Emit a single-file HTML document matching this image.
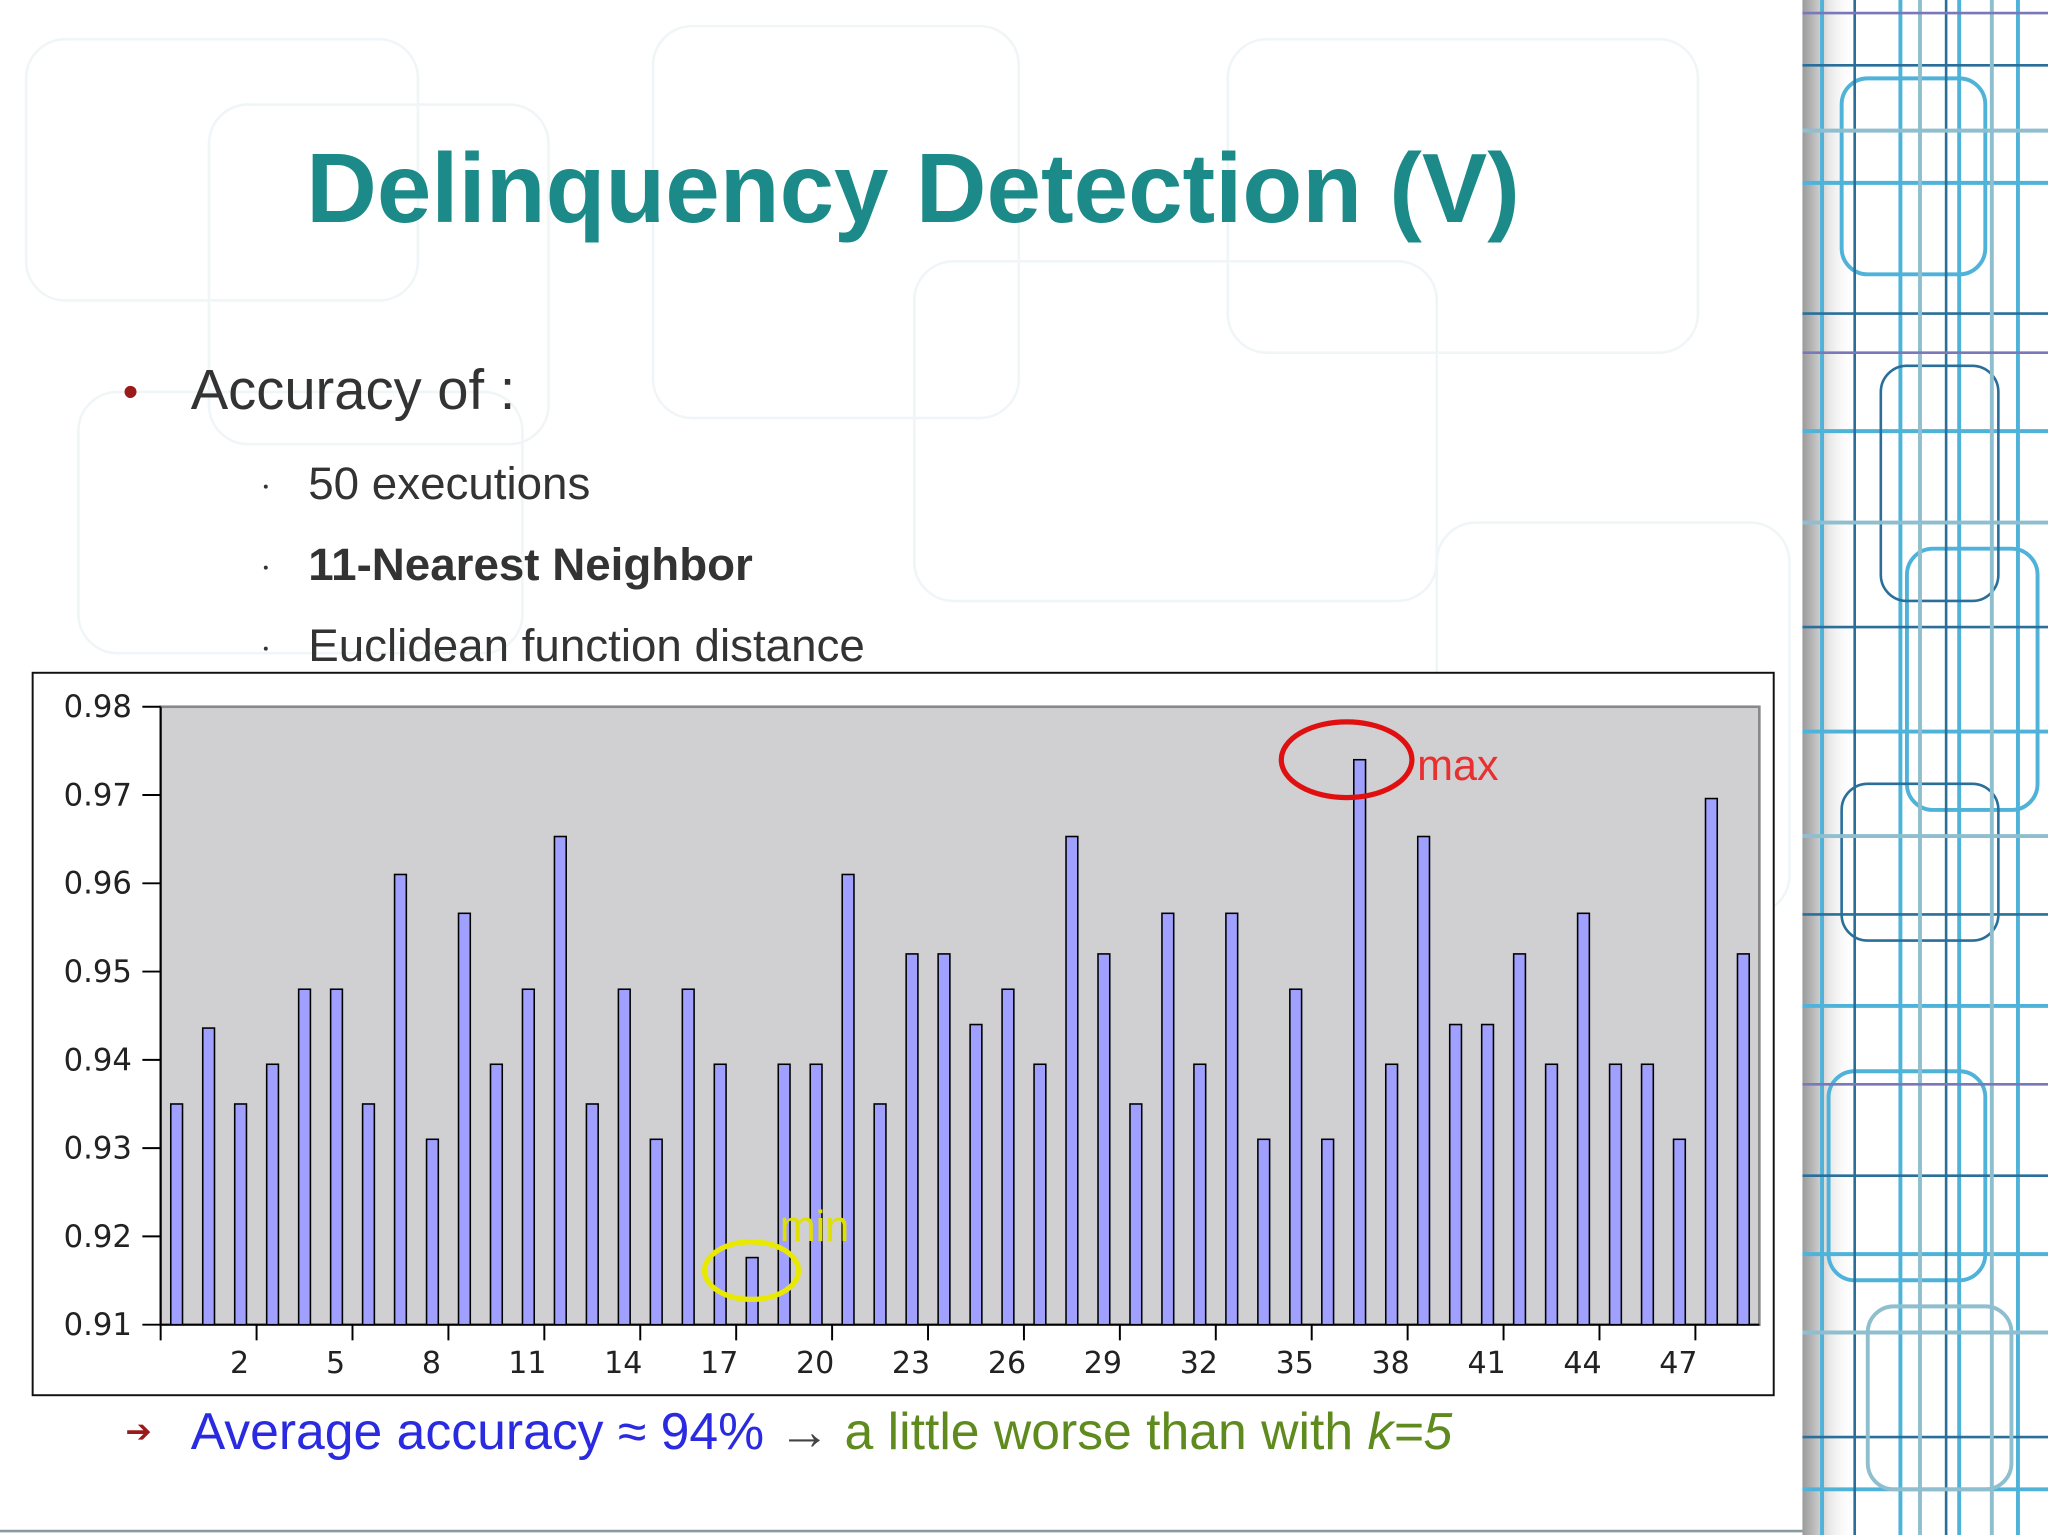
<!DOCTYPE html>
<html><head><meta charset="utf-8"><style>
html,body{margin:0;padding:0;width:2048px;height:1535px;overflow:hidden;background:#fff}
#wrap{position:absolute;left:0;top:0;width:1568px;height:1175px;transform:scale(1.30612,1.30638);transform-origin:0 0;font-family:"Liberation Sans",sans-serif}
.t{position:absolute;white-space:nowrap}
.dot{position:absolute;left:0;top:6px;width:3px;height:3px;background:#333;border-radius:50%}
</style></head><body>
<div id="wrap">
<svg width="1568" height="1175" style="position:absolute;left:0;top:0">
 <defs><linearGradient id="sh" x1="0" x2="1"><stop offset="0" stop-color="#9a9a9a"/><stop offset="0.5" stop-color="#e6e6e6"/><stop offset="1" stop-color="#fff" stop-opacity="0"/></linearGradient></defs>
 <g stroke="#f0f5f7" stroke-width="2" fill="none">
  <rect x="20" y="30" width="300" height="200" rx="30"/><rect x="160" y="80" width="260" height="260" rx="30"/>
  <rect x="500" y="20" width="280" height="300" rx="30"/><rect x="940" y="30" width="360" height="240" rx="30"/>
  <rect x="60" y="300" width="340" height="200" rx="30"/><rect x="700" y="200" width="400" height="260" rx="30"/>
  <rect x="1100" y="400" width="270" height="300" rx="30"/>
 </g>
 <rect x="1380" y="0" width="188" height="1175" fill="#fff"/>
 <rect x="1380" y="0" width="40" height="1175" fill="url(#sh)"/>
 <g fill="none" stroke-width="3">
  <g stroke="#4fb3d9"><path d="M1395 0V1175M1455 0V1175M1500 0V1175M1545 0V1175"/><path d="M1380 140H1568M1380 330H1568M1380 560H1568M1380 770H1568M1380 960H1568M1380 1140H1568"/>
  <rect x="1410" y="60" width="110" height="150" rx="20"/><rect x="1460" y="420" width="100" height="200" rx="20"/><rect x="1400" y="820" width="120" height="160" rx="20"/></g>
  <g stroke="#2a6f9a" stroke-width="2"><path d="M1420 0V1175M1490 0V1175M1380 50H1568M1380 240H1568M1380 480H1568M1380 700H1568M1380 900H1568M1380 1100H1568"/>
  <rect x="1440" y="280" width="90" height="180" rx="20"/><rect x="1410" y="600" width="120" height="120" rx="20"/></g>
  <g stroke="#8fbfcf"><path d="M1470 0V1175M1525 0V1175M1380 100H1568M1380 400H1568M1380 640H1568M1380 1020H1568"/><rect x="1430" y="1000" width="110" height="140" rx="20"/></g>
  <g stroke="#7a78b8" stroke-width="2"><path d="M1380 10H1568M1380 270H1568M1380 830H1568"/></g>
 </g>
 <line x1="0" y1="1172" x2="1380" y2="1172" stroke="#8a9aa0" stroke-width="2"/>
</svg>
<div class="t" style="left:0;width:1398px;text-align:center;top:101px;font-size:75px;font-weight:bold;color:#1b8a88">Delinquency Detection (V)</div>
<div class="t" style="left:94px;top:281px;font-size:34px;color:#9b1a1a">•</div>
<div class="t" style="left:146px;top:275px;font-size:43px;color:#333">Accuracy of :</div>
<div class="t" style="left:202px;top:351px;font-size:35px;color:#333;height:40px"><span class="dot" style="top:20px"></span><span style="position:absolute;left:34px">50 executions</span></div>
<div class="t" style="left:202px;top:413px;font-size:35px;color:#333;height:40px"><span class="dot" style="top:20px"></span><span style="position:absolute;left:34px;font-weight:bold">11-Nearest Neighbor</span></div>
<div class="t" style="left:202px;top:475px;font-size:35px;color:#333;height:40px"><span class="dot" style="top:20px"></span><span style="position:absolute;left:34px">Euclidean function distance</span></div>
<svg id="chart" width="1568" height="1175" style="position:absolute;left:0;top:0"></svg>
<div class="t" style="left:96px;top:1082px;font-size:24px;color:#9b1a1a">➔</div>
<div class="t" style="left:146px;top:1074px;font-size:39.6px"><span style="color:#2a2ae0">Average accuracy ≈ 94%</span> <span style="color:#444">→</span> <span style="color:#5e8a1e">a little worse than with <i>k=5</i></span></div>
</div>
<script>
const values=[0.935,0.9436,0.935,0.9395,0.948,0.948,0.935,0.961,0.931,0.9566,0.9395,0.948,0.9653,0.935,0.948,0.931,0.948,0.9395,0.9176,0.9395,0.9395,0.961,0.935,0.952,0.952,0.944,0.948,0.9395,0.9653,0.952,0.935,0.9566,0.9395,0.9566,0.931,0.948,0.931,0.974,0.9395,0.9653,0.944,0.944,0.952,0.9395,0.9566,0.9395,0.9395,0.931,0.9696,0.952];
const yTicks=[0.91,0.92,0.93,0.94,0.95,0.96,0.97,0.98];
const xTickLabels=[2,5,8,11,14,17,20,23,26,29,32,35,38,41,44,47];
const NS='http://www.w3.org/2000/svg',svg=document.getElementById('chart');
const L=123,R=1347,T=541,B=1014,yMin=0.91,yMax=0.98;
const step=(R-L)/values.length;
const y=v=>B-(v-yMin)/(yMax-yMin)*(B-T);
const x=i=>L+(i+0.5)*step;
function mk(tag,at,txt){const e=document.createElementNS(NS,tag);for(const k in at)e.setAttribute(k,at[k]);if(txt!=null)e.textContent=txt;svg.appendChild(e);return e;}
let e=mk('rect',{x:25,y:515,width:1333,height:553,fill:'#fff',stroke:'#111','stroke-width':1.5});


e=mk('rect',{x:L,y:T,width:R-L,height:B-T,fill:'#d0d0d3',stroke:'#888','stroke-width':2});


mk('line',{x1:L,y1:T,x2:L,y2:B+12,stroke:'#000','stroke-width':1.5});
mk('line',{x1:L,y1:B,x2:R,y2:B,stroke:'#000','stroke-width':1.5});
yTicks.forEach(v=>{
 mk('line',{x1:L-14,y1:y(v),x2:L,y2:y(v),stroke:'#000','stroke-width':1.5});
 e=mk('text',{x:101,y:y(v)+8,'text-anchor':'end','font-size':23.5,fill:'#222','font-family':'DejaVu Sans, sans-serif'},v.toFixed(2));
 
 
});
xTickLabels.forEach(n=>{
 const tx=L+(n+1)*step;
 mk('line',{x1:tx,y1:B,x2:tx,y2:B+12,stroke:'#000','stroke-width':1.5});
 e=mk('text',{x:tx-13,y:B+37,'text-anchor':'middle','font-size':23,fill:'#222','font-family':'DejaVu Sans, sans-serif'},String(n));
 
 
});
values.forEach((v,i)=>{
 e=mk('rect',{x:x(i)-4.5,y:y(v),width:9,height:B-y(v),fill:'#a0a0ff',stroke:'#000','stroke-width':1.2});
 
 
});
const maxI=values.indexOf(Math.max(...values)),minI=values.indexOf(Math.min(...values));
e=mk('ellipse',{cx:x(maxI)-10,cy:y(values[maxI]),rx:50,ry:29,fill:'none',stroke:'#e01010','stroke-width':4});


e=mk('text',{x:1085,y:597,'font-size':33,fill:'#e83030','font-family':'Liberation Sans, sans-serif'},'max');


e=mk('ellipse',{cx:x(minI)-0.5,cy:y(values[minI])+10,rx:36,ry:22,fill:'none',stroke:'#e8e800','stroke-width':4});


e=mk('text',{x:597,y:950,'font-size':33,fill:'#e0e000','font-family':'Liberation Sans, sans-serif'},'min');


</script>
</body></html>
